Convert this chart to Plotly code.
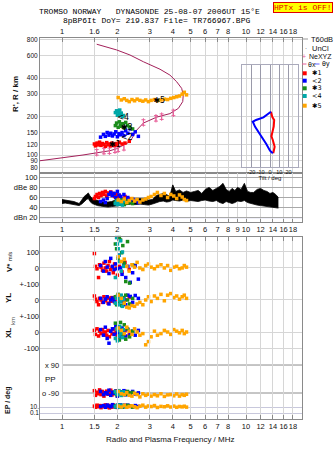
import math
import plotly.graph_objects as go

# ---------------- data ----------------
top_tick_vals = [1, 1.5, 2, 3, 4, 5, 6, 7, 8, 10, 12, 14, 16, 18]
top_tick_text = ["1", "1.6", "2", "3", "4", "5", "6", "7", "8", "10", "12", "14", "16", "18"]
mid_tick_vals = [1, 1.5, 2, 3, 4, 5, 6, 7, 8, 9, 10, 12, 14, 16, 18]
mid_tick_text = ["1", "1.5", "2", "3", "4", "5", "6", "7", "8", "9", "10", "12", "14", "16", "18"]
bot_tick_vals = [1, 1.5, 2, 3, 4, 5, 6, 7, 8, 10, 12, 14, 16, 18]
bot_tick_text = ["1", "1.5", "2", "3", "4", "5", "6", "7", "8", "10", "12", "14", "16", "18"]
h_tick_vals = [80, 90, 100, 120, 150, 200, 300, 400, 600, 800]
db_tick_vals = [20, 40, 60, 80, 100]
db_tick_text = ["dBn 20", "40", "60", "dBe 80", "100"]
tilt_ticks = [-20, -10, 0, 10, 20]

# plasma frequency profile (MHz, km)
prof_f = [0.753, 1.016, 1.30, 1.544, 1.82, 1.98, 2.07, 2.34, 2.40, 2.55, 2.77, 3.27, 3.86, 4.29, 4.53,
          4.56, 4.47, 4.20, 3.86, 3.41, 2.77, 2.34, 1.98, 1.544]
prof_h = [90, 95, 100, 104, 108, 112, 116, 127, 135, 157, 178, 198, 211, 232, 262,
          295, 333, 375, 423, 470, 538, 608, 666, 738]
# NeXYZ points
ne_f = [1.544, 1.69, 1.81, 1.94, 2.02, 2.17, 2.77, 3.24, 3.48, 4.03]
ne_h = [105, 107.5, 108, 110, 112, 115, 180, 194, 200, 214]

# echo groups: frequency, virtual height, amplitude, V*, YL, XL, PP, EP
f1 = [1.50, 1.52, 1.55, 1.58, 1.60, 1.63, 1.66, 1.69, 1.72, 1.75, 1.78, 1.81, 1.84, 1.87, 1.90, 1.93, 1.97, 2.00, 2.05, 2.12, 2.20, 2.32]
h1 = [122, 118, 124, 120, 126, 119, 123, 121, 117, 125, 120, 122, 118, 124, 121, 119, 123, 120, 126, 122, 124, 128]
d1 = [58, 62, 66, 60, 68, 64, 70, 66, 72, 63, 69, 67, 71, 65, 68, 62, 66, 60, 64, 58, 62, 57]
v1 = [90, 10, -5, -60, 20, 5, -15, 30, 0, -20, 15, 40, -10, 5, -30, 25, 0, -45, 10, -25, 35, -10]
yl1 = [25, 5, -10, -30, 10, 0, -15, 20, -5, 8, -20, 12, -8, 15, 0, -12, 5, -25, 10, -5, 0, 18]
xl1 = [10, -15, 20, -25, 5, -10, 15, -5, 0, -20, 10, -30, 5, -12, 18, -8, 0, -22, 12, -5, 8, -18]
pp1 = [-75, -105, -85, -95, -70, -100, -80, -110, -90, -78, -98, -88, -72, -102, -84, -94, -76, -108, -86, -96, -80, -92]
ep1 = [20, 8, 40, 12, 30, 6, 25, 15, 50, 10, 35, 5, 20, 9, 45, 14, 28, 7, 18, 11, 38, 16]

f2 = [1.62, 1.68, 1.72, 1.76, 1.80, 1.84, 1.88, 1.92, 1.96, 2.00, 2.04, 2.08, 2.12, 2.17, 2.22, 2.28, 2.35, 2.42, 2.50, 2.60]
h2 = [138, 145, 140, 150, 143, 148, 141, 146, 152, 139, 147, 144, 150, 142, 155, 148, 160, 145, 152, 140]
d2 = [52, 55, 50, 58, 66, 70, 64, 68, 60, 72, 65, 62, 58, 66, 55, 60, 52, 57, 54, 50]
v2 = [15, -20, 40, 5, -35, 60, 10, -10, 25, -5, 80, 0, -40, 20, -60, 10, -90, -30, 15, -70]
yl2 = [10, -15, 5, 20, -25, 0, 12, -8, 15, -20, 5, 25, -10, 8, -30, 30, 22, -15, 28, 10]
xl2 = [15, -20, 30, -40, -70, 5, 20, -15, 35, -5, 10, -30, 25, 0, -25, 15, -10, 5, -20, 10]
pp2 = [-80, -100, -88, -95, -72, -105, -85, -92, -78, -110, -90, -83, -98, -75, -102, -87, -93, -80, -96, -89]
ep2 = [15, 30, 8, 45, 20, 12, 60, 25, 10, 35, 18, 50, 9, 28, 14, 40, 22, 11, 30, 16]

f3 = [1.95, 1.98, 2.02, 2.05, 2.08, 2.11, 2.14, 2.18, 2.22, 2.27, 2.33, 2.42]
h3 = [170, 178, 165, 182, 172, 168, 176, 163, 180, 170, 166, 160]
d3 = [50, 54, 48, 52, 47, 55, 50, 46, 53, 49, 51, 48]
v3 = [150, 120, 60, 190, 175, 95, 140, 30, -85, 165, -95, 20]
yl3 = [20, -30, 35, -10, 5, -35, 15, -20, 30, 0, -25, 10]
xl3 = [55, -40, 30, -50, 60, 10, -20, 45, -45, 20, -30, 5]
pp3 = [-85, -100, -78, -95, -88, -105, -82, -92, -98, -80, -90, -86]
ep3 = [20, 10, 40, 15, 25, 8, 30, 12, 18, 35, 22, 9]

f4 = [1.95, 1.98, 2.00, 2.02, 2.04, 2.06, 2.08, 2.10, 2.13, 2.16]
h4 = [215, 222, 205, 218, 210, 225, 208, 213, 200, 204]
d4 = [48, 52, 46, 50, 54, 47, 51, 49, 45, 53]
v4 = [-60, 190, 150, 120, 80, 40, 170, -20, 100, 10]
yl4 = [-20, 10, 25, -30, 0, 15, -10, 30, -40, 5]
xl4 = [-40, 20, -55, 10, -25, 35, -10, 0, -35, 15]
pp4 = [-80, -95, -88, -100, -75, -92, -85, -105, -90, -82]
ep4 = [12, 30, 20, 8, 45, 15, 25, 10, 35, 18]

f5 = [2.02, 2.10, 2.18, 2.25, 2.32, 2.40, 2.48, 2.56, 2.65, 2.75, 2.85, 2.95, 3.05, 3.18, 3.30, 3.45, 3.60, 3.75, 3.90, 4.05, 4.20, 4.35, 4.50, 4.62, 4.75]
h5 = [282, 270, 276, 268, 262, 272, 266, 274, 268, 264, 270, 262, 268, 272, 266, 270, 274, 272, 278, 282, 286, 290, 300, 310, 296]
d5 = [55, 52, 57, 50, 54, 58, 53, 56, 51, 55, 57, 60, 62, 66, 70, 64, 68, 60, 66, 63, 58, 65, 61, 56, 54]
v5 = [70, 40, 55, 10, -20, 20, 5, 35, 0, -10, 15, 25, 5, -5, 10, 20, 0, 15, -15, 5, 10, -5, 0, 15, 5]
yl5 = [30, 10, -20, -45, -50, -35, -40, -25, -15, -30, 0, 20, -10, 25, 10, 35, -5, 30, 40, 15, 25, 5, 20, 30, 10]
xl5 = [25, 10, -10, 30, 5, -15, 20, 0, -20, -10, -80, -60, -30, 5, -20, -10, 10, 0, -15, 15, 5, -5, 10, -10, 0]
pp5 = [-80, -95, -100, -88, -105, -110, -92, -100, -115, -95, -105, -98, -110, -100, -108, -95, -112, -102, -100, -108, -96, -110, -100, -105, -98]
ep5 = [20, 10, 30, 8, 15, 25, 12, 6, 18, 40, 9, 22, 14, 30, 7, 16, 12, 25, 10, 20, 8, 15, 11, 18, 9]

# black amplitude band (dBe)
fb = [1.00, 1.04, 1.08, 1.12, 1.16, 1.20, 1.24, 1.28, 1.32, 1.36, 1.39, 1.42, 1.46, 1.50, 1.56, 1.62, 1.70, 1.78,
      1.86, 1.95, 2.05, 2.15, 2.25, 2.38, 2.50, 2.65, 2.80, 2.95, 3.10, 3.25, 3.40, 3.55, 3.70, 3.85, 4.00, 4.15,
      4.35, 4.55, 4.75, 5.00, 5.25, 5.50, 5.75, 6.00, 6.30, 6.60, 6.90, 7.20, 7.50, 7.80, 8.10, 8.40, 8.70, 9.00,
      9.40, 9.80, 10.2, 10.6, 11.0, 11.5, 12.0, 12.5, 13.0, 13.5, 14.0, 14.5, 15.0]
band_hi = [56, 55, 54, 54, 52, 50, 48, 55, 62, 66, 69, 63, 58, 56, 54, 52, 50, 51,
           52, 55, 56, 55, 57, 58, 57, 58, 57, 55, 56, 64, 66, 68, 66, 62, 85, 72,
           75, 70, 73, 70, 72, 74, 68, 76, 80, 74, 78, 82, 88, 76, 72, 78, 74, 80,
           76, 88, 72, 70, 70, 76, 78, 74, 72, 68, 70, 66, 60]
band_lo = [48, 49, 48, 47, 46, 45, 44, 47, 52, 56, 58, 52, 48, 46, 44, 43, 42, 41,
           42, 43, 44, 45, 46, 47, 46, 47, 46, 45, 47, 50, 52, 53, 51, 52, 55, 54,
           53, 55, 52, 54, 53, 52, 54, 55, 53, 52, 54, 50, 48, 52, 50, 48, 50, 53,
           52, 54, 50, 48, 47, 45, 44, 43, 42, 42, 41, 40, 39]

# tilt inset
tx_deg = [1, 2.5, 4.5, 4, 2.5, 1.5, 3, 5, 3.5]
tx_h = [218, 198, 188, 167, 150, 140, 131, 116, 103]
ty_deg = [1, -7, -15, -18.5, -16, -11, -6, -4, 0, 3]
ty_h = [218, 197, 188, 182, 166, 146, 131, 122, 108, 103]

# echo-group labels
lab_text = ["✱1", "<2", "✱3", "<4", "✱5"]
lab_f = [1.94, 2.25, 2.25, 2.15, 3.38]
lab_h = [120, 135, 162, 194, 266]

colors = ["#ff0000", "#0000ff", "#1a8c1a", "#00a8a8", "#ffa500"]
groups = [
    (f1, h1, d1, v1, yl1, xl1, pp1, ep1),
    (f2, h2, d2, v2, yl2, xl2, pp2, ep2),
    (f3, h3, d3, v3, yl3, xl3, pp3, ep3),
    (f4, h4, d4, v4, yl4, xl4, pp4, ep4),
    (f5, h5, d5, v5, yl5, xl5, pp5, ep5),
]

# ---------------- layout helpers ----------------
W, H = 335, 451
L, R, T, B = 40, 302, 38, 419


def px(p):
    return (p - L) / (R - L)


def py(p):
    return (B - p) / (B - T)


XR = [(L - 62) / 184.0, (R - 62) / 184.0]
TF = dict(family="Liberation Sans, Arial", size=7.5, color="#111")
TFS = dict(family="Liberation Sans, Arial", size=6.5, color="#111")
GRID = "#d6d6d6"
FRAME = "#8a8a8a"
MS = 3.5

fig = go.Figure()

# top panel
fig.add_trace(go.Scatter(x=prof_f, y=prof_h, mode="lines", line=dict(color="#a3205a", width=1),
                         xaxis="x", yaxis="y"))
fig.add_trace(go.Scatter(x=ne_f, y=ne_h, mode="markers",
                         marker=dict(symbol="line-ns-open", size=6, color="#e8609a", line=dict(width=1, color="#e8609a")),
                         error_y=dict(type="percent", value=5, width=2, thickness=1, color="#e8609a"),
                         xaxis="x", yaxis="y"))
for (g, c) in zip(groups, colors):
    fig.add_trace(go.Scatter(x=g[0], y=g[1], mode="markers", marker=dict(symbol="square", size=MS, color=c),
                             xaxis="x", yaxis="y"))
fig.add_trace(go.Scatter(x=lab_f, y=lab_h, mode="text", text=lab_text,
                         textfont=dict(family="DejaVu Sans", size=8, color="#000"), xaxis="x", yaxis="y"))

# dBe panel
fig.add_trace(go.Scatter(x=fb, y=band_lo, mode="lines", line=dict(color="#000", width=0.8), xaxis="x2", yaxis="y2"))
fig.add_trace(go.Scatter(x=fb, y=band_hi, mode="lines", line=dict(color="#000", width=0.8), fill="tonexty",
                         fillcolor="#000", xaxis="x2", yaxis="y2"))
for (g, c) in zip(groups, colors):
    fig.add_trace(go.Scatter(x=g[0], y=g[2], mode="markers", marker=dict(symbol="square", size=MS, color=c),
                             xaxis="x2", yaxis="y2"))

# lower panel frame holder
fig.add_trace(go.Scatter(x=[1], y=[0.5], mode="markers", marker=dict(opacity=0), hoverinfo="skip",
                         xaxis="x3", yaxis="y9"))
for (g, c) in zip(groups, colors):
    for k, ya in zip(range(3, 8), ["y3", "y4", "y5", "y6", "y7"]):
        fig.add_trace(go.Scatter(x=g[0], y=g[k], mode="markers", marker=dict(symbol="square", size=MS, color=c),
                                 xaxis="x3", yaxis=ya, cliponaxis=False))

# tilt inset
fig.add_trace(go.Scatter(x=tx_deg, y=tx_h, mode="lines", line=dict(color="#ff0000", width=2), xaxis="x4", yaxis="y8"))
fig.add_trace(go.Scatter(x=ty_deg, y=ty_h, mode="lines", line=dict(color="#0000ff", width=2), xaxis="x4", yaxis="y8"))

common_x = dict(type="log", range=XR, showgrid=True, gridcolor=GRID, gridwidth=1, zeroline=False,
                showline=True, linecolor=FRAME, tickfont=TF, tickcolor=FRAME, tickangle=0)

strip = dict(anchor="x3", showline=False, zeroline=False, ticks="", tickfont=TF, showgrid=True, gridcolor=GRID)

fig.update_layout(
    width=W, height=H, autosize=False,
    margin=dict(l=L, r=W - R, t=T, b=H - B, pad=0),
    paper_bgcolor="white", plot_bgcolor="rgba(0,0,0,0)",
    showlegend=False,
    xaxis=dict(common_x, anchor="y", side="top", tickvals=top_tick_vals, ticktext=top_tick_text,
               ticks="inside", ticklen=4, mirror=True),
    yaxis=dict(type="log", range=[1.8589, 2.9169], domain=[py(173), 1], anchor="x",
               tickvals=h_tick_vals, ticktext=[str(v) for v in h_tick_vals], ticks="",
               showgrid=True, gridcolor=GRID, zeroline=False, showline=True, mirror=True,
               linecolor=FRAME, tickfont=TFS),
    xaxis2=dict(common_x, anchor="y2", side="bottom", tickvals=mid_tick_vals, ticktext=mid_tick_text,
                ticks="inside", ticklen=3, mirror=True),
    yaxis2=dict(range=[11.5, 108.5], domain=[py(222), py(173)], anchor="x2",
                tickvals=db_tick_vals, ticktext=db_tick_text, ticks="", showgrid=True, gridcolor="#a8a8a8",
                zeroline=False, showline=True, mirror=True, linecolor=FRAME, tickfont=TF),
    xaxis3=dict(common_x, anchor="y9", side="bottom", tickvals=bot_tick_vals, ticktext=bot_tick_text,
                ticks="inside", ticklen=4, mirror="ticks"),
    yaxis9=dict(domain=[0, py(237)], range=[0, 1], anchor="x3", showticklabels=False, showgrid=False,
                zeroline=False, showline=True, mirror=True, linecolor=FRAME, ticks=""),
    yaxis3=dict(strip, domain=[py(284), py(237)], range=[-100.5, 193.75],
                tickvals=[100, 0, -100], ticktext=["100", "0", "+-100"]),
    yaxis4=dict(strip, domain=[py(316), py(284)], range=[-100.5, 100],
                tickvals=[0, -100], ticktext=["0", "+-100"]),
    yaxis5=dict(strip, domain=[py(356), py(316)], range=[-150, 100],
                tickvals=[0, -100], ticktext=["0", "-100"]),
    yaxis6=dict(strip, domain=[py(400), py(356)], range=[-135, 148],
                tickvals=[], showgrid=False),
    yaxis7=dict(strip, domain=[0, py(400)], type="log", range=[-3, 3.333],
                tickvals=[10, 0.1], ticktext=["10.", "0.1"], gridcolor="#c8c8dc",
                tickfont=dict(family="Liberation Sans, Arial", size=6.5, color="#111")),
    xaxis4=dict(domain=[px(241.7), px(298.3)], anchor="y8", range=[-30.4, 30.4],
                tickvals=tilt_ticks, ticktext=[str(t) for t in tilt_ticks], ticks="", tickangle=0,
                tickfont=dict(family="Liberation Sans, Arial", size=5.5, color="#111"),
                showgrid=True, gridcolor="#9a9aaa", zeroline=False, showline=True, mirror=True,
                linecolor="#aaaabb",
                title=dict(text="Tilt / deg", font=dict(family="Liberation Sans, Arial", size=6, color="#111"),
                           standoff=0)),
    yaxis8=dict(domain=[py(166.7), py(65)], anchor="x4", type="log", range=[1.908, 2.705],
                showticklabels=False, showgrid=False, zeroline=False, showline=True, mirror=True,
                linecolor="#aaaabb", ticks=""),
)

shapes = []
# dBn 20 lavender line
shapes.append(dict(type="line", xref="paper", yref="y2", x0=0, x1=1, y0=20, y1=20,
                   line=dict(color="#b4b4e6", width=1), layer="below"))
# PP lines
for v in [90, -90]:
    shapes.append(dict(type="line", xref="paper", yref="y6", x0=px(62), x1=1, y0=v, y1=v,
                       line=dict(color="#8c8c8c", width=1), layer="below"))

annotations = []


def ann(text, x, y, size=8, xanchor="center", yanchor="middle", color="#111", family="Liberation Sans, Arial",
        textangle=0, **kw):
    d = dict(text=text, x=px(x), y=py(y), xref="paper", yref="paper", showarrow=False,
             xanchor=xanchor, yanchor=yanchor, textangle=textangle,
             font=dict(size=size, color=color, family=family))
    d.update(kw)
    annotations.append(d)


mono = "Liberation Mono, DejaVu Sans Mono"
ann("TROMSO NORWAY\u00a0\u00a0\u00a0DYNASONDE 25-08-07 2006UT 15°E", 149, 12, size=8, family=mono, color="#000")
ann("8pBP6It DoY= 219.837 File= TR766967.BPG", 156, 20, size=8, family=mono, color="#000")
ann("HPTx is OFF!", 302.5, 8, size=8, family=mono, color="#e00000", bgcolor="#ffff00",
    bordercolor="#e00000", borderwidth=1, borderpad=0)

ann("<b>R', R / km</b>", 15, 94, size=8, textangle=-90)
ann("<b>V*</b> <span style='font-size:6px'>m/s</span>", 9, 262, size=8, textangle=-90)
ann("<b>YL</b>", 8, 298, size=8, textangle=-90)
ann("km", 13, 321, size=6, textangle=-90, color="#555")
ann("<b>XL</b>", 8, 333, size=8, textangle=-90)
ann("<b>EP / deg</b>", 8, 400, size=7, textangle=-90)
ann("PP", 43, 379, size=8, xanchor="left")
ann("Radio and Plasma Frequency / MHz", 170, 440, size=8)
# PP tick labels
for v, t in [(90, "x 90"), (-90, "o -90")]:
    annotations.append(dict(text=t, x=px(61), y=v, xref="paper", yref="y6", showarrow=False,
                            xanchor="right", yanchor="middle", font=TF))

# legend on the right
shapes.append(dict(type="line", xref="paper", yref="paper", x0=px(302), x1=px(308), y0=py(39), y1=py(39),
                   line=dict(color="#999", width=1)))
ann("T60dB", 308.5, 39.5, xanchor="left", size=7.5)
ann("·", 305.5, 48, size=6, color="#000")
ann("UnCl", 310, 48.5, xanchor="left", size=7.5)
ann("+", 303.5, 56.5, size=7, color="#e8609a")
ann("NeXYZ", 307, 56, xanchor="left", size=7)
shapes.append(dict(type="line", xref="paper", yref="paper", x0=px(302), x1=px(306.5), y0=py(64), y1=py(64),
                   line=dict(color="#e8609a", width=1)))
ann("θx", 306.5, 64, xanchor="left", size=7)
shapes.append(dict(type="line", xref="paper", yref="paper", x0=px(315), x1=px(319.5), y0=py(64), y1=py(64),
                   line=dict(color="#6060ff", width=1)))
ann("θy", 319.5, 64, xanchor="left", size=7)
leg_y = [73.3, 80.7, 88.3, 96, 105.7]
for c, t, yy in zip(colors, lab_text, leg_y):
    shapes.append(dict(type="rect", xref="paper", yref="paper", x0=px(302.7), x1=px(306.7),
                       y0=py(yy + 2), y1=py(yy - 2), fillcolor=c, line=dict(width=0)))
    ann(t, 309.5, yy, xanchor="left", family="DejaVu Sans", size=6.5, color="#000")

fig.update_layout(shapes=shapes, annotations=annotations)
fig.write_html("out.html")
